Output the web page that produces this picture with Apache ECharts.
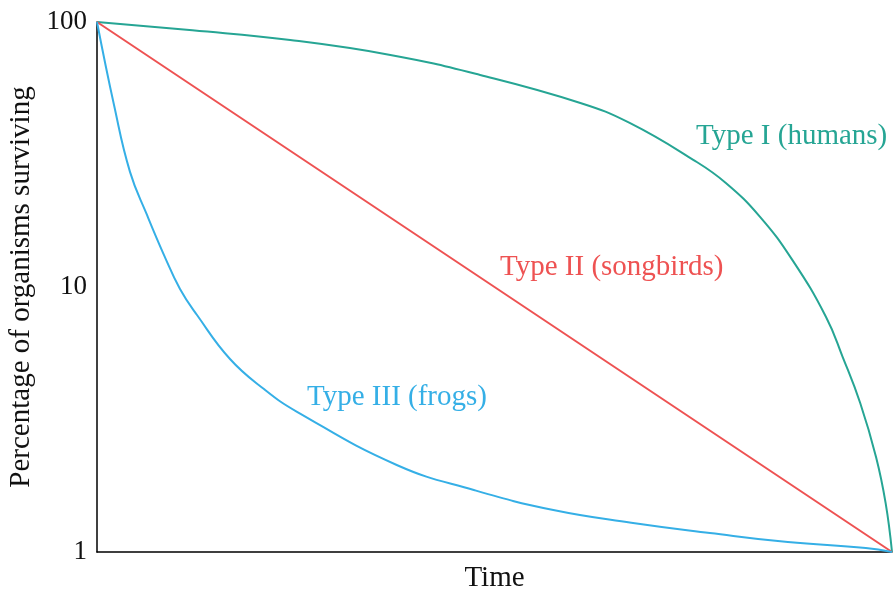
<!DOCTYPE html>
<html>
<head>
<meta charset="utf-8">
<script src="https://cdn.jsdelivr.net/npm/echarts@6/dist/echarts.min.js"></script>
<style>
  html, body { margin: 0; padding: 0; background: #fff; }
</style>
</head>
<body>
<div id="main" style="width:893px;height:589px"></div>
<script>
// survivorship curves, time in % of lifespan, survivors in %
const typeOneTime = [0, 12, 24.3, 36.9, 48.2, 60.8, 67.0, 75.0, 79.1, 83.4, 87.5, 91.7, 93.8, 96.0, 98.0, 99.2, 100]
const typeOneValues = [100, 93, 85.5, 75.1, 63.1, 49.5, 41.6, 30.2, 24.7, 18.4, 12.6, 7.71, 5.44, 3.65, 2.28, 1.53, 1]

const typeTwoTime = [0, 100]
const typeTwoValues = [100, 1]

const typeThreeTime = [0, 2.14, 4.15, 6.29, 8.43, 10.44, 12.58, 16.73, 21.0, 25.16, 37.7, 47.5, 57.4, 67.2, 77.1, 86.9, 96.7, 100]
const typeThreeValues = [100, 48.6, 27.2, 18.7, 13.2, 9.83, 7.84, 5.35, 4.12, 3.38, 2.13, 1.71, 1.44, 1.29, 1.18, 1.09, 1.035, 1]

const seriesNames = ['Type I (humans)', 'Type II (songbirds)', 'Type III (frogs)']
const yTicks = [1, 10, 100]

const FONT = '"Liberation Serif", "DejaVu Serif", serif'
const teal = '#26a594'
const red = '#ee5252'
const blue = '#35afe6'

function pairs (xs, ys) {
  return xs.map((x, i) => [x, ys[i]])
}

const myChart = echarts.init(document.getElementById('main'))
myChart.setOption({
  animation: false,
  grid: {
    left: 97,
    right: 1,
    top: 22,
    bottom: 37,
    containLabel: false,
    outerBoundsMode: 'none'
  },
  xAxis: {
    type: 'value',
    min: 0,
    max: 100,
    name: 'Time',
    nameLocation: 'middle',
    nameGap: 12,
    nameTextStyle: { fontFamily: FONT, fontSize: 29, color: '#111', verticalAlign: 'top' },
    axisLine: { show: true, lineStyle: { color: '#000', width: 1.5 } },
    axisTick: { show: false },
    axisLabel: { show: false },
    splitLine: { show: false }
  },
  yAxis: {
    type: 'log',
    logBase: 10,
    min: 1,
    max: 100,
    name: 'Percentage of organisms surviving',
    nameLocation: 'middle',
    nameGap: 56,
    nameTextStyle: { fontFamily: FONT, fontSize: 29, color: '#111' },
    axisLine: { show: true, lineStyle: { color: '#000', width: 1.5 } },
    axisTick: { show: false },
    splitLine: { show: false },
    axisLabel: {
      margin: 10,
      fontFamily: FONT,
      fontSize: 27,
      color: '#111',
      formatter: (v) => (yTicks.indexOf(Math.round(v)) >= 0 ? String(Math.round(v)) : '')
    }
  },
  graphic: [
    { type: 'text', left: 696, top: 122, style: { text: seriesNames[0], fill: teal, font: '29px ' + FONT } },
    { type: 'text', left: 500, top: 253, style: { text: seriesNames[1], fill: red, font: '29px ' + FONT } },
    { type: 'text', left: 307, top: 383, style: { text: seriesNames[2], fill: blue, font: '29px ' + FONT } }
  ],
  series: [
    {
      name: seriesNames[0],
      type: 'line',
      data: pairs(typeOneTime, typeOneValues),
      smooth: 0.45,
      symbol: 'none',
      lineStyle: { color: teal, width: 2 }
    },
    {
      name: seriesNames[1],
      type: 'line',
      data: pairs(typeTwoTime, typeTwoValues),
      symbol: 'none',
      lineStyle: { color: red, width: 2 }
    },
    {
      name: seriesNames[2],
      type: 'line',
      data: pairs(typeThreeTime, typeThreeValues),
      smooth: 0.45,
      symbol: 'none',
      lineStyle: { color: blue, width: 2 }
    }
  ]
})
</script>
</body>
</html>
